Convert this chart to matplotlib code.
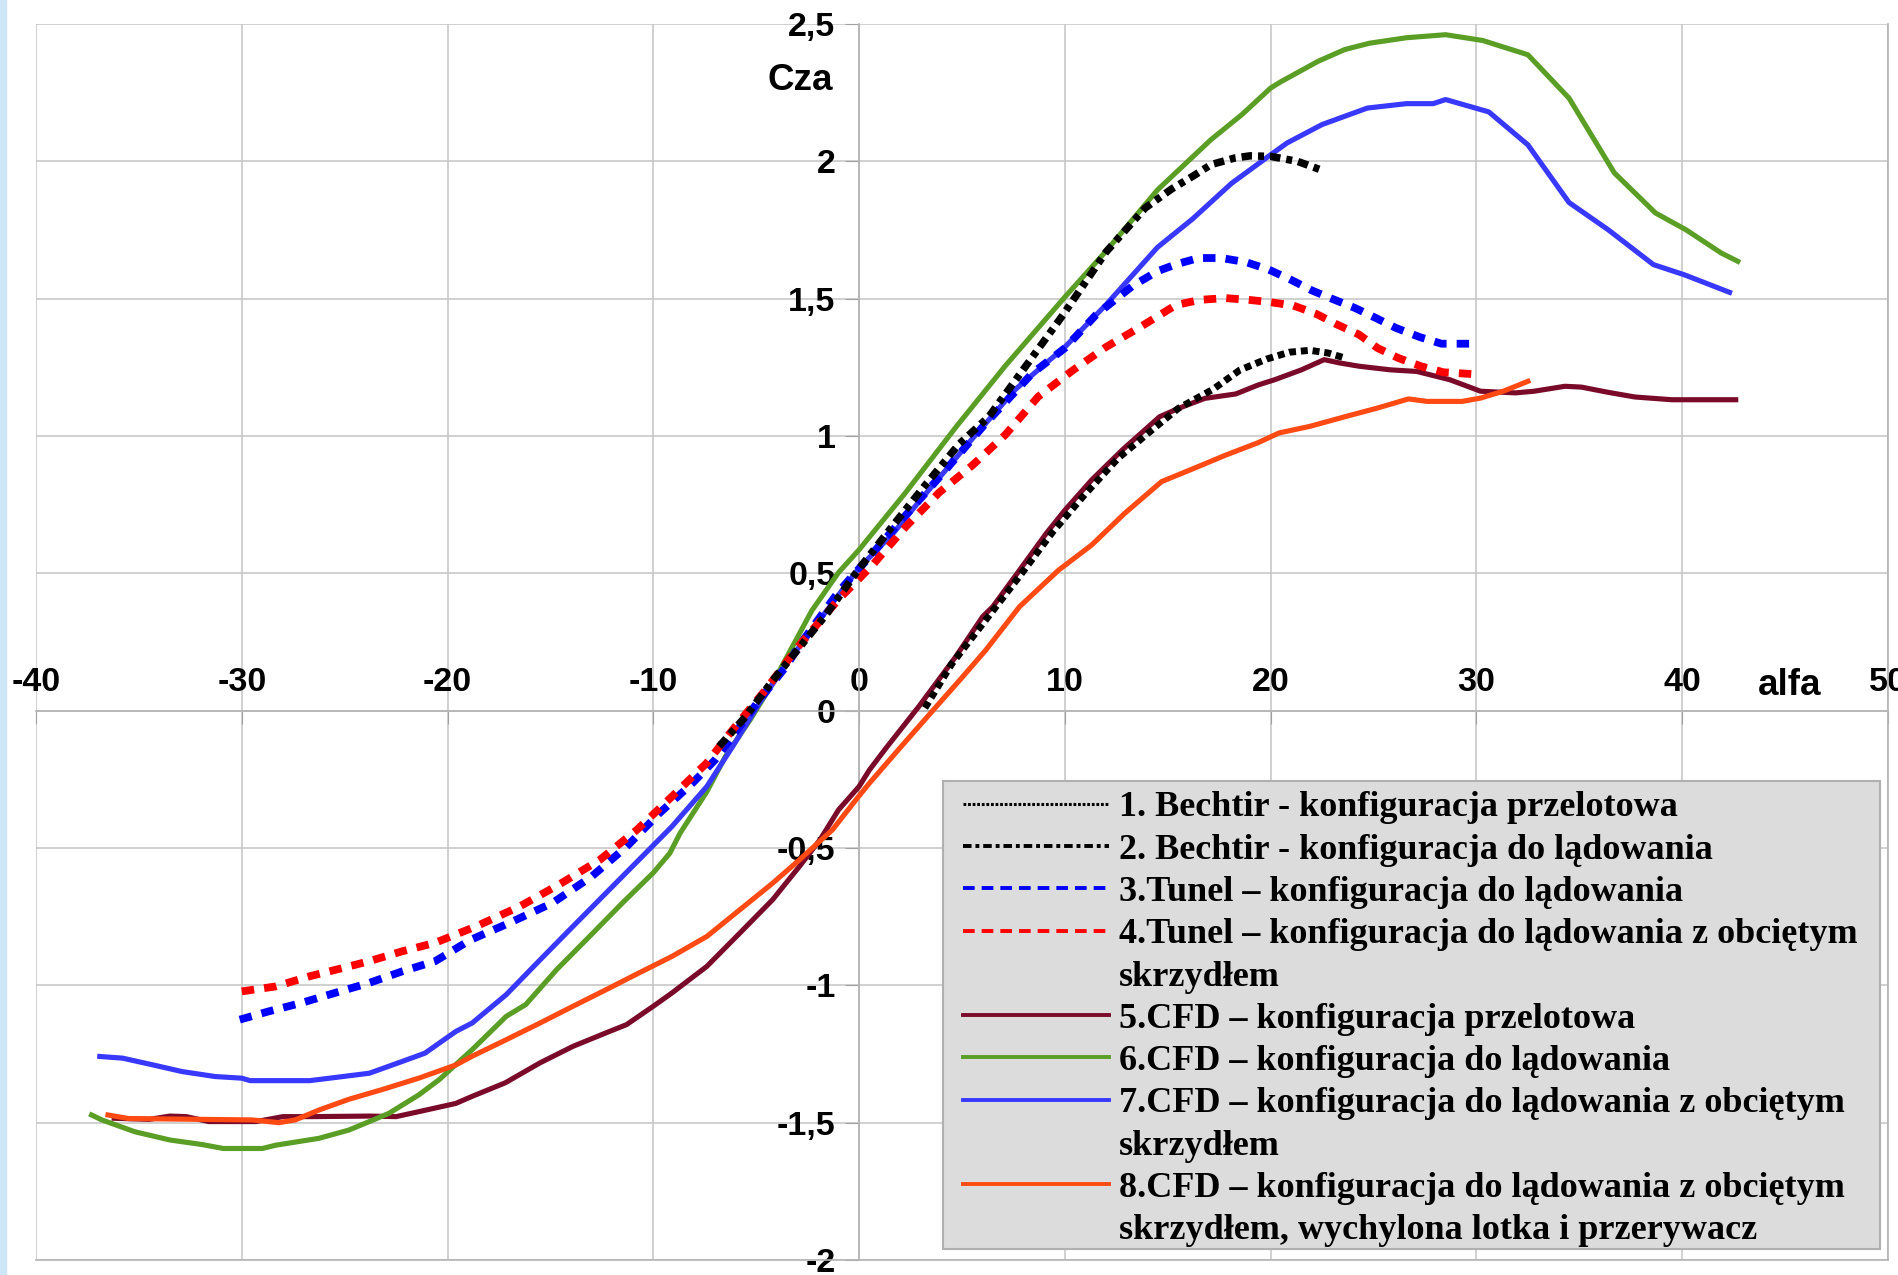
import matplotlib
matplotlib.use("Agg")
import matplotlib.pyplot as plt
from matplotlib.lines import Line2D
from matplotlib.patches import Rectangle

# --- data (alfa [deg] vs Cza) ---
x_ticks = [-40, -30, -20, -10, 0, 10, 20, 30, 40, 50]
x_tick_labels = ["-40", "-30", "-20", "-10", "0", "10", "20", "30", "40", "50"]
y_ticks = [2.5, 2, 1.5, 1, 0.5, 0, -0.5, -1, -1.5, -2]
y_tick_labels = ["2,5", "2", "1,5", "1", "0,5", "0", "-0,5", "-1", "-1,5", "-2"]

# 1. Bechtir - przelotowa
bech_prz_x = [3.2, 4.5, 6.15, 7.8, 9.4, 11.0, 12.6, 14.2, 15.5, 17.2, 18.5, 19.8, 20.9, 21.9, 22.8, 23.6]
bech_prz_y = [0.01, 0.17, 0.33, 0.49, 0.65, 0.79, 0.92, 1.02, 1.1, 1.17, 1.24, 1.28, 1.305, 1.312, 1.302, 1.284]

# 2. Bechtir - do ladowania
bech_lad_x = [-6.8, -5.5, -4.2, -2.9, -1.6, 0, 1.6, 3.2, 4.85, 6.3, 8.25, 9.9, 12.0, 13.9, 15.2, 16.2,
              17.1, 18.25, 19.0, 20.0, 21.3, 22.4]
bech_lad_y = [-0.13, -0.02, 0.11, 0.23, 0.35, 0.517, 0.67, 0.82, 0.97, 1.07, 1.27, 1.44, 1.67, 1.83, 1.90, 1.945,
              1.988, 2.012, 2.02, 2.018, 2.0, 1.97]

# 3. Tunel - do ladowania
tun_lad_x = [-30.1, -28.7, -27.1, -25.4, -23.8, -22.2, -20.6, -18.9, -17.0, -14.9, -13.0, -11.3, -9.7, -8.1,
             -7.0, -5.8, -4.85, -3.56, -2.9, -1.0, 0.65, 2.27, 3.9, 6.15, 8.4, 10.0, 11.5, 13.3, 14.5, 15.4,
             16.5, 17.6, 18.8, 19.9, 20.9, 22.0, 23.0, 24.1, 25.1, 26.1, 27.25, 28.3, 29.8]
tun_lad_y = [-1.125, -1.095, -1.064, -1.026, -0.991, -0.949, -0.912, -0.835, -0.773, -0.70, -0.604, -0.495,
             -0.373, -0.264, -0.179, -0.058, 0.039, 0.16, 0.238, 0.433, 0.572, 0.712, 0.85, 1.046, 1.227, 1.32,
             1.44, 1.547, 1.60, 1.625, 1.648, 1.648, 1.633, 1.606, 1.572, 1.53, 1.499, 1.466, 1.43, 1.393, 1.36,
             1.336, 1.336]

# 4. Tunel - do ladowania z obcietym skrzydlem
tun_obc_x = [-30.0, -28.35, -26.7, -25.1, -23.8, -22.2, -20.6, -18.6, -16.5, -14.6, -12.6, -10.8, -9.1, -7.4,
             -6.15, -4.5, -3.0, -1.0, 0.65, 2.27, 3.9, 5.5, 7.1, 8.7, 10.4, 12.0, 13.6, 15.4, 16.6, 17.8, 18.9,
             20.0, 21.1, 22.2, 23.25, 24.3, 25.2, 26.2, 27.3, 28.4, 29.9]
tun_obc_y = [-1.022, -1.004, -0.967, -0.937, -0.912, -0.876, -0.845, -0.785, -0.713, -0.634, -0.543, -0.434,
             -0.313, -0.19, -0.07, 0.08, 0.23, 0.405, 0.53, 0.67, 0.795, 0.893, 1.004, 1.143, 1.24, 1.324, 1.394,
             1.477, 1.496, 1.502, 1.496, 1.487, 1.475, 1.445, 1.405, 1.369, 1.32, 1.284, 1.254, 1.232, 1.225]

# 5. CFD - przelotowa
cfd_prz_x = [-36.2, -34.5, -33.5, -32.7, -31.6, -29.3, -28.0, -26.6, -23.8, -22.5, -21.4, -19.6, -18.8, -17.2,
             -15.5, -13.9, -12.3, -11.3, -10.0, -9.1, -7.4, -5.8, -4.2, -2.9, -1.9, -1.0, 0.0, 0.5, 1.3, 2.9,
             4.7, 6.0, 6.5, 7.8, 9.1, 10.0, 11.3, 12.8, 14.6, 15.5, 16.8, 18.3, 19.4, 20.2, 21.5, 22.6, 23.35,
             24.3, 25.8, 27.1, 28.7, 30.2, 31.9, 32.8, 34.3, 35.1, 36.4, 37.7, 39.5, 42.6]
cfd_prz_y = [-1.484, -1.488, -1.476, -1.478, -1.496, -1.496, -1.478, -1.478, -1.476, -1.478, -1.46, -1.43,
             -1.404, -1.355, -1.282, -1.222, -1.173, -1.143, -1.076, -1.028, -0.931, -0.81, -0.688, -0.567,
             -0.47, -0.361, -0.276, -0.216, -0.137, 0.015, 0.197, 0.342, 0.379, 0.512, 0.646, 0.73, 0.84, 0.95,
             1.07, 1.10, 1.137, 1.153, 1.186, 1.205, 1.241, 1.278, 1.266, 1.254, 1.241, 1.235, 1.205, 1.163,
             1.157, 1.163, 1.181, 1.178, 1.159, 1.142, 1.132, 1.132]

# 6. CFD - do ladowania
cfd_lad_x = [-37.3, -36.8, -35.2, -33.5, -31.9, -30.9, -29.0, -28.35, -26.25, -24.8, -23.8, -22.85, -21.4,
             -20.4, -18.8, -17.15, -16.2, -14.7, -13.1, -11.5, -10.0, -9.2, -8.7, -7.4, -6.5, -5.3, -4.2, -2.3,
             -1.0, 0.0, 2.27, 4.7, 7.1, 10.0, 12.0, 14.5, 16.15, 17.1, 18.6, 20.0, 20.5, 22.3, 23.6, 24.8, 26.6,
             28.5, 30.3, 32.5, 34.5, 36.7, 38.7, 40.2, 41.9, 42.7]
cfd_lad_y = [-1.472, -1.49, -1.533, -1.563, -1.58, -1.594, -1.594, -1.582, -1.557, -1.527, -1.496, -1.466,
             -1.399, -1.343, -1.234, -1.113, -1.07, -0.943, -0.822, -0.70, -0.59, -0.519, -0.446, -0.295,
             -0.167, -0.034, 0.1, 0.364, 0.503, 0.586, 0.795, 1.032, 1.255, 1.506, 1.673, 1.896, 2.012, 2.079,
             2.17, 2.267, 2.29, 2.364, 2.407, 2.43, 2.45, 2.461, 2.44, 2.388, 2.23, 1.958, 1.812, 1.75, 1.666,
             1.636]

# 7. CFD - do ladowania z obcietym skrzydlem
cfd_obc_x = [-36.9, -35.8, -34.3, -32.9, -31.3, -30.0, -29.6, -26.7, -25.4, -23.8, -22.2, -21.1, -19.6, -18.8,
             -17.15, -15.5, -13.9, -12.3, -10.7, -9.1, -7.4, -6.15, -4.85, -3.4, 0.0, 1.66, 2.9, 5.5, 7.6, 10.0,
             12.0, 14.5, 16.2, 18.1, 20.0, 20.8, 22.5, 24.7, 26.6, 27.9, 28.5, 30.6, 32.5, 34.5, 36.4, 38.6,
             40.1, 42.3]
cfd_obc_y = [-1.259, -1.265, -1.29, -1.314, -1.332, -1.338, -1.347, -1.347, -1.335, -1.32, -1.277, -1.247,
             -1.168, -1.137, -1.034, -0.907, -0.785, -0.664, -0.543, -0.422, -0.276, -0.131, 0.027, 0.184,
             0.52, 0.646, 0.76, 0.99, 1.17, 1.324, 1.478, 1.687, 1.79, 1.92, 2.024, 2.067, 2.134, 2.194, 2.21,
             2.21, 2.225, 2.18, 2.06, 1.85, 1.751, 1.624, 1.587, 1.523]

# 8. CFD - obciete skrzydlo, wychylona lotka i przerywacz
cfd_lot_x = [-36.5, -35.5, -29.5, -28.2, -27.4, -26.25, -24.8, -23.2, -21.4, -19.6, -18.8, -17.15, -15.5,
             -13.9, -12.3, -10.7, -9.1, -7.4, -5.8, -4.2, -2.9, -1.3, 0.0, 0.5, 1.9, 3.6, 4.9, 6.15, 7.8, 9.7,
             11.3, 12.9, 14.7, 16.2, 17.8, 19.4, 20.4, 21.9, 23.7, 25.2, 26.7, 27.6, 29.3, 30.2, 31.3, 32.5]
cfd_lot_y = [-1.472, -1.485, -1.49, -1.5, -1.49, -1.454, -1.415, -1.38, -1.338, -1.29, -1.258, -1.198,
             -1.137, -1.076, -1.016, -0.955, -0.895, -0.822, -0.725, -0.628, -0.543, -0.434, -0.31, -0.264,
             -0.143, 0.002, 0.112, 0.22, 0.379, 0.512, 0.603, 0.718, 0.834, 0.88, 0.93, 0.976, 1.011, 1.035,
             1.072, 1.102, 1.135, 1.126, 1.126, 1.138, 1.163, 1.199]

legend_labels = [
    "1. Bechtir - konfiguracja przelotowa",
    "2. Bechtir - konfiguracja do lądowania",
    "3.Tunel – konfiguracja do lądowania",
    "4.Tunel – konfiguracja do lądowania z obciętym",
    "skrzydłem",
    "5.CFD – konfiguracja przelotowa",
    "6.CFD – konfiguracja do lądowania",
    "7.CFD – konfiguracja do lądowania z obciętym",
    "skrzydłem",
    "8.CFD – konfiguracja do lądowania z obciętym",
    "skrzydłem, wychylona lotka i przerywacz",
]

c_dred = "#7a0a2a"
c_green = "#5a9e26"
c_blue = "#3838ff"
c_orange = "#ff4a14"

W, H = 1898, 1275
fig = plt.figure(figsize=(W / 100, H / 100), dpi=100)
fig.patches.append(Rectangle((0, 0), 6 / W, 1, transform=fig.transFigure, color="#cfe5f8", zorder=0))
ax = fig.add_axes([36 / W, 1 - 1260 / H, 1852 / W, 1236 / H])

ax.plot(cfd_prz_x, cfd_prz_y, color=c_dred, lw=3.7, zorder=3)
ax.plot(cfd_lad_x, cfd_lad_y, color=c_green, lw=3.7, zorder=3)
ax.plot(cfd_obc_x, cfd_obc_y, color=c_blue, lw=3.7, zorder=3)
ax.plot(cfd_lot_x, cfd_lot_y, color=c_orange, lw=3.7, zorder=3)
ax.plot(tun_lad_x, tun_lad_y, color="#0000ff", lw=5.6, dashes=(1.6, 1.3), zorder=4)
ax.plot(tun_obc_x, tun_obc_y, color="#ff0000", lw=5.6, dashes=(1.6, 1.3), zorder=4)
ax.plot(bech_prz_x, bech_prz_y, color="black", lw=5.0, dashes=(1, 0.7), zorder=5)
ax.plot(bech_lad_x, bech_lad_y, color="black", lw=5.4, dashes=(1.4, 0.8, 0.8, 0.8), zorder=5)

ax.set_xlim(-40, 50)
ax.set_ylim(-2, 2.5)

# axes cross at (0, 0); labels above / left of the zero lines
ax.spines["top"].set_position(("data", 0))
ax.spines["left"].set_position(("data", 0))
for s in ax.spines.values():
    s.set_color("#b4b4b4")
    s.set_linewidth(1.2)
ax.xaxis.set_ticks_position("top")
ax.yaxis.set_ticks_position("left")

ax.set_xticks(x_ticks)
ax.set_xticklabels(x_tick_labels)
ax.set_yticks(y_ticks)
ax.set_yticklabels(y_tick_labels)
for t in ax.xaxis.get_major_ticks() + ax.yaxis.get_major_ticks():
    for lbl in (t.label1, t.label2):
        lbl.set_fontsize(24.5)
        lbl.set_fontweight("bold")
        lbl.set_family("Liberation Sans")
ax.tick_params(axis="x", direction="in", length=9, pad=9, color="#a0a0a0", labeltop=True, labelbottom=False)
ax.tick_params(axis="y", direction="out", length=10, pad=7, color="#a0a0a0")
ax.grid(True, color="#c4c4c4", lw=1.1)
ax.set_axisbelow(True)

name_font = dict(fontsize=26.5, fontweight="bold", family="Liberation Sans")
ax.text(-1.27, 2.296, "Cza", ha="right", va="center", **name_font)
ax.text(43.7, 0.092, "alfa", ha="left", va="center", **name_font)

# legend
handles = [
    Line2D([], [], color="black", lw=2.2, dashes=(0.9, 0.6)),
    Line2D([], [], color="black", lw=2.8, dashes=(2.2, 1.0, 1.0, 1.0)),
    Line2D([], [], color="#0000ff", lw=2.8, dashes=(3.0, 1.8)),
    Line2D([], [], color="#ff0000", lw=2.8, dashes=(3.0, 1.8)),
    Line2D([], [], color="none"),
    Line2D([], [], color=c_dred, lw=2.8),
    Line2D([], [], color=c_green, lw=2.8),
    Line2D([], [], color=c_blue, lw=2.8),
    Line2D([], [], color="none"),
    Line2D([], [], color=c_orange, lw=2.8),
    Line2D([], [], color="none"),
]
fs = 26
fpx = fs * 100 / 72
ax.add_patch(Rectangle((943 / W, 1 - 1249 / H), 937 / W, 468 / H, transform=fig.transFigure,
                       facecolor="#dcdcdc", edgecolor="#b0b0b0", lw=1.5, zorder=8, clip_on=False))
leg = ax.legend(handles, legend_labels, loc="upper left", bbox_to_anchor=(963 / W, 1 - 791 / H),
                bbox_transform=fig.transFigure, frameon=False, borderpad=0, borderaxespad=0,
                handlelength=146 / fpx, handletextpad=10 / fpx, labelspacing=0.25,
                prop=dict(family="Liberation Serif", weight="bold", size=fs))
leg.set_zorder(9)

fig.savefig("out.png", dpi=100)
